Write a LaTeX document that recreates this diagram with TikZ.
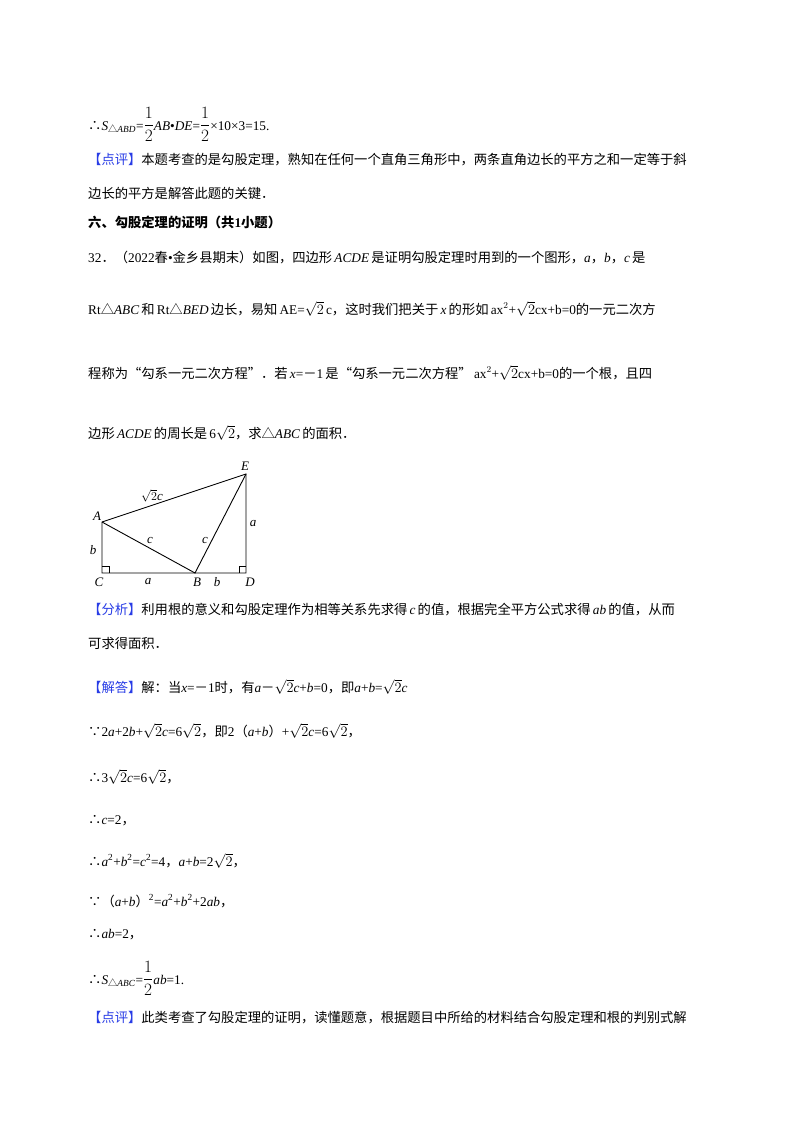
\documentclass[tikz,border=0pt]{standalone}
\usepackage{fontspec}
\usetikzlibrary{calc}
\setmainfont{Noto Sans CJK SC}
\newfontfamily\en{Liberation Serif}
\newcommand{\ei}[1]{{\en\itshape #1}}
\newcommand{\er}[1]{{\en #1}}
\definecolor{tagblue}{RGB}{40,60,230}
\newcommand{\tagb}[1]{{\color{tagblue}【#1】}}
\newcommand{\hf}{{\fontsize{17}{18}\selectfont$\displaystyle\frac{1}{2}$}}
\begin{document}
\begin{tikzpicture}[x=1pt,y=-1pt,
  ln/.style={anchor=base west,inner sep=0pt,font=\fontsize{13.3}{15}\selectfont},
  lb/.style={inner sep=1pt,font=\en\itshape\fontsize{13}{14}\selectfont},
  seg/.style={line width=0.9pt}]
\useasboundingbox (0,0) rectangle (800,1132);
\fill[white] (0,0) rectangle (800,1132);
\node[ln] (l1) at (88,130) {∴\ei{S}\textsubscript{△\ei{ABD}}\er{=}\hf\ei{AB}\er{•}\ei{DE}\er{=}\hf\er{×10×3=15.}};
\node[ln] (l2) at (88,164) {\tagb{点评}本题考查的是勾股定理，熟知在任何一个直角三角形中，两条直角边长的平方之和一定等于斜};
\node[ln] (l3) at (88,198) {边长的平方是解答此题的关键．};
\node[ln] (l4) at (88,227) {\bfseries 六、勾股定理的证明（共\er{\bfseries 1}小题）};
\node[ln] (l5) at (88,262) {\er{32}．（\er{2022}春\er{•}金乡县期末）如图，四边形\,\ei{ACDE}\,是证明勾股定理时用到的一个图形，\ei{a}，\ei{b}，\ei{c}\,是};
\node[ln] (l6) at (88,314) {\er{Rt}△\ei{ABC}\,和\,\er{Rt}△\ei{BED}\,边长，易知\,\er{AE=}$\sqrt{2}$\,\er{c}，这时我们把关于\,\ei{x}\,的形如\,\er{ax}$^2$\er{+}$\sqrt{2}$\er{cx+b=0}的一元二次方};
\node[ln] (l7) at (88,378) {程称为“勾系一元二次方程”．若\,\ei{x}\er{=}－\er{1}\,是“勾系一元二次方程”\,\er{ax}$^2$\er{+}$\sqrt{2}$\er{cx+b=0}的一个根，且四};
\node[ln] (l8) at (88,438) {边形\,\ei{ACDE}\,的周长是\,\er{6}$\sqrt{2}$，求△\ei{ABC}\,的面积．};
% figure
\coordinate (C) at (102,573);
\coordinate (A) at (102,522);
\coordinate (B) at (195,573);
\coordinate (D) at (246,573);
\coordinate (E) at (246,474);
\draw[seg] (A)--(C)--(D)--(E)--cycle;
\draw[seg] (A)--(B)--(E);
\draw[line width=0.8pt] ($(C)+(0,-7)$) -- ++(7,0) -- ++(0,7);
\draw[line width=0.8pt] ($(D)+(0,-7)$) -- ++(-7,0) -- ++(0,7);
\node[lb] (nA) at (97,516) {A};
\node[lb] (nE) at (245,466) {E};
\node[lb] (nC) at (99,582) {C};
\node[lb] (nB) at (197,582) {B};
\node[lb] (nD) at (250,582) {D};
\node[lb] (na1) at (148,582) {a};
\node[lb] (nb1) at (217,582) {b};
\node[lb] (nb2) at (93,550) {b};
\node[lb] (na2) at (253,524) {a};
\node[lb] (nc1) at (150,540) {c};
\node[lb] (nc2) at (205,540) {c};
\node[lb] (nr) at (152,496) {$\sqrt{2}$c};
% solution
\node[ln] (l9) at (88,614) {\tagb{分析}利用根的意义和勾股定理作为相等关系先求得\,\ei{c}\,的值，根据完全平方公式求得\,\ei{ab}\,的值，从而};
\node[ln] (l10) at (88,648) {可求得面积．};
\node[ln] (l11) at (88,692) {\tagb{解答}解：当\ei{x}\er{=}－\er{1}时，有\ei{a}－$\sqrt{2}$\ei{c}\er{+}\ei{b}\er{=0}，即\ei{a}\er{+}\ei{b}\er{=}$\sqrt{2}$\ei{c}};
\node[ln] (l12) at (88,736) {∵\er{2}\ei{a}\er{+2}\ei{b}\er{+}$\sqrt{2}$\ei{c}\er{=6}$\sqrt{2}$，即\er{2}（\ei{a}\er{+}\ei{b}）\er{+}$\sqrt{2}$\ei{c}\er{=6}$\sqrt{2}$，};
\node[ln] (l13) at (88,782) {∴\er{3}$\sqrt{2}$\ei{c}\er{=6}$\sqrt{2}$，};
\node[ln] (l14) at (88,824) {∴\ei{c}\er{=2}，};
\node[ln] (l15) at (88,866) {∴\ei{a}\textsuperscript{\er{2}}\er{+}\ei{b}\textsuperscript{\er{2}}\er{=}\ei{c}\textsuperscript{\er{2}}\er{=4}，\ei{a}\er{+}\ei{b}\er{=2}$\sqrt{2}$，};
\node[ln] (l16) at (88,906) {∵（\ei{a}\er{+}\ei{b}）\textsuperscript{\er{2}}\er{=}\ei{a}\textsuperscript{\er{2}}\er{+}\ei{b}\textsuperscript{\er{2}}\er{+2}\ei{ab}，};
\node[ln] (l17) at (88,938) {∴\ei{ab}\er{=2}，};
\node[ln] (l18) at (88,984) {∴\ei{S}\textsubscript{△\ei{ABC}}\er{=}\hf\ei{ab}\er{=1.}};
\node[ln] (l19) at (88,1022) {\tagb{点评}此类考查了勾股定理的证明，读懂题意，根据题目中所给的材料结合勾股定理和根的判别式解};
\end{tikzpicture}
\end{document}
